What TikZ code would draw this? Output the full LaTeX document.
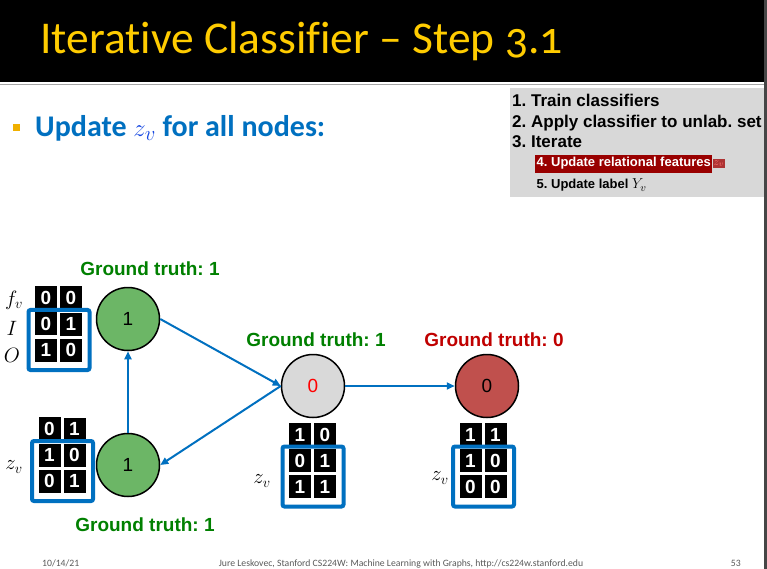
\documentclass[tikz,border=0pt]{standalone}
\usepackage{amsmath}
\usepackage{fontspec}
\usepackage{tikz}
\usepackage{xcolor}
\setmainfont{Liberation Sans}
\newfontfamily\ttlfont[Numbers=OldStyle, Ligatures=NoCommon]{Carlito}
\newfontfamily\calfont{Carlito}
\usetikzlibrary{arrows.meta, positioning, calc, matrix}
\frenchspacing
\definecolor{cTitle}{RGB}{255,204,0}
\definecolor{cBlue}{RGB}{0,112,192}
\definecolor{cZblue}{RGB}{20,70,225}
\definecolor{cBullet}{RGB}{240,176,0}
\definecolor{cPanel}{RGB}{216,216,216}
\definecolor{cHl}{RGB}{153,0,0}
\definecolor{cTruthG}{RGB}{0,128,0}
\definecolor{cTruthR}{RGB}{192,0,0}
\definecolor{cNodeG}{RGB}{108,182,102}
\definecolor{cNodeY}{RGB}{217,217,217}
\definecolor{cNodeR}{RGB}{192,80,77}
\definecolor{cFoot}{RGB}{90,90,90}
\definecolor{cEdge}{RGB}{70,70,70}
\tikzset{
	vtx/.style      ={circle, draw=black, line width=1.5pt, minimum size=63pt, inner sep=0pt, font=\fontsize{19}{19}\selectfont},
	truth/.style    ={inner sep=3pt, font=\bfseries\fontsize{19}{19}\selectfont},
	listtxt/.style  ={anchor=base west, inner sep=0pt, font=\bfseries\fontsize{17}{17}\selectfont},
	subtxt/.style   ={anchor=base west, inner xsep=1.5pt, inner ysep=3pt, font=\bfseries\fontsize{13}{13}\selectfont},
	mlabel/.style   ={inner sep=0pt, font=\fontsize{20}{20}\selectfont},
	% feature matrices with the z_v part boxed
	cell/.style     ={rectangle, fill=black, draw=white, line width=1.5pt, minimum width=23.5pt, minimum height=24.5pt, inner sep=0pt, text=white, font=\bfseries\fontsize{19}{19}\selectfont},
	fmat/.style     ={matrix of nodes, nodes={cell}, column sep=0pt, row sep=0pt, inner sep=0pt},
	zbox/.style     ={draw=cBlue, line width=4pt, rounded corners=2pt},
	nbarrow/.style  ={-{Triangle[length=8pt, width=7pt]}, draw=cBlue, line width=2pt},
	foot/.style     ={inner sep=0pt, text=cFoot, font=\calfont\fontsize{9.7}{9.7}\selectfont},
}
\begin{document}
\begin{tikzpicture}[x=1pt, y=-1pt]
	\useasboundingbox (0,0) rectangle (767,569);
	\fill[white] (0,0) rectangle (767,569);
	\fill[black] (0,0) rectangle (764,82);
	\draw[gray!70, line width=1.2pt] (0,84.5) -- (764,84.5);
	\fill[cEdge] (764,0) rectangle (767,569);
	\node[anchor=base west, inner sep=0pt, text=cTitle, font=\ttlfont\fontsize{45.5}{45.5}\selectfont] (title) at (40,54) {Iterative Classifier – Step 3.1};
	\node[fill=cBullet, minimum size=7pt, inner sep=0pt] (bul) at (16.5,127.5) {};
	\node[anchor=base west, inner sep=0pt, text=cBlue, font=\calfont\bfseries\fontsize{30}{30}\selectfont] (head) at (35,137) {Update \textcolor{cZblue}{$z_v$} for all nodes:};
	% steps panel
	\fill[cPanel] (510,88) rectangle (764,197);
	\node[listtxt] (s1) at (512,107) {1. Train classifiers};
	\node[listtxt] (s2) at (512,127.5) {2. Apply classifier to unlab. set};
	\node[listtxt] (s3) at (512,148) {3. Iterate};
	\node[subtxt, fill=cHl, text=white] (s4) at (535,167) {4. Update relational features};
	\node[right=0pt of s4, inner sep=1pt, fill=cHl!80, text=red!55!white, font=\fontsize{11}{11}\selectfont] (s4z) {$z_v$};
	\node[subtxt] (s5) at (535,189) {5. Update label {\fontsize{15}{15}\selectfont$Y_v$}};
	% graph
	\node[vtx, fill=cNodeG] (a) at (128,319) {1};
	\node[vtx, fill=cNodeG] (b) at (128,465) {1};
	\node[vtx, fill=cNodeY, text=red] (c) at (313,386) {0};
	\node[vtx, fill=cNodeR] (d) at (487,386) {0};
	\draw[nbarrow] (b) -- (a); \draw[nbarrow] (a.east) -- (c.west);
	\draw[nbarrow] (c.west) -- (b.east); \draw[nbarrow] (c) -- (d);
	\node[truth, text=cTruthG, above=8pt of a, xshift=22pt] (ta) {Ground truth: 1};
	\node[truth, text=cTruthG, below=17pt of b, xshift=17pt] (tb) {Ground truth: 1};
	\node[truth, text=cTruthG, above=3.5pt of c, xshift=3pt] (tc) {Ground truth: 1};
	\node[truth, text=cTruthR, above=3.5pt of d, xshift=7pt] (td) {Ground truth: 0};
	\matrix[fmat] (fa) at (58.5,324) {0 & 0\\ 0 & 1\\ 1 & 0\\};
	\matrix[fmat] (fb) at (62,455) {0 & 1\\ 1 & 0\\ 0 & 1\\};
	\matrix[fmat] (fc) at (312.5,460.5) {1 & 0\\ 0 & 1\\ 1 & 1\\};
	\matrix[fmat] (fd) at (483,460.5) {1 & 1\\ 1 & 0\\ 0 & 0\\};
	\foreach \m in {fa, fb, fc, fd}
		\draw[zbox] ($(\m-2-1.north west)+(-5,-1)$) rectangle ($(\m-3-2.south east)+(6,7)$);
	\node[mlabel] (fv) at (14,300) {$f_v$};
	\node[mlabel] (li) at (12,328) {$I$};
	\node[mlabel] (lo) at (12,355) {$O$};
	\node[mlabel] (zb) at (14,467) {$z_v$};
	\node[mlabel] (zc) at (262,481) {$z_v$};
	\node[mlabel] (zd) at (440,478) {$z_v$};
	% footer
	\node[foot, anchor=base west] (date) at (42,566) {10/14/21};
	\node[foot, anchor=base] (cred) at (401,566) {Jure Leskovec, Stanford CS224W: Machine Learning with Graphs, http://cs224w.stanford.edu};
	\node[foot, anchor=base east] (pg) at (741,566) {53};
\end{tikzpicture}
\end{document}
